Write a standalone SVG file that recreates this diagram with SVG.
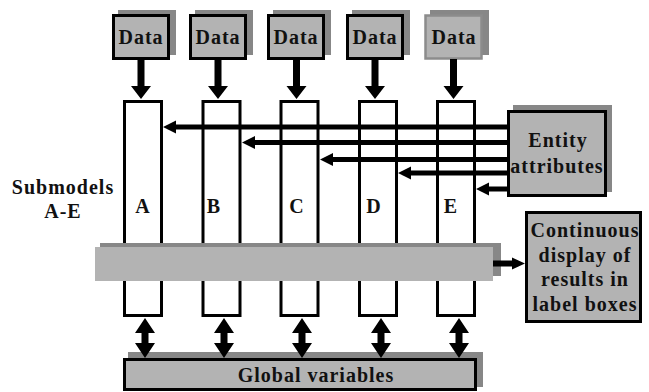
<svg xmlns="http://www.w3.org/2000/svg" width="649" height="392" viewBox="0 0 649 392">
  <style>
    .lbl { font-family: "Liberation Serif", "Times New Roman", serif; font-weight: bold; font-size: 20px; letter-spacing: 1px; fill: #111; text-anchor: middle; }
    .shadow { fill: #878787; }
    .box { fill: #b3b3b3; stroke: #000; stroke-width: 3; }
    .col { fill: #fff; stroke: #000; stroke-width: 3; }
    .arrow { fill: #000; stroke: none; }
  </style>
  <defs>
    <!-- downward arrow from a data box, origin at the shaft top centre -->
    <path id="down-arrow" d="M-3.5,0 H3.5 V27 H10 L0,40 L-10,27 H-3.5 Z"/>
    <!-- two-headed vertical arrow, origin at the upper tip -->
    <path id="both-arrow" d="M0,0 L10,15 H3.5 V25 H10 L0,40 L-10,25 H-3.5 V15 H-10 Z"/>
  </defs>

  <!-- Submodel columns -->
  <g id="submodel-A"><rect class="col" x="124.5" y="101.5" width="37" height="214"/><text class="lbl" x="143" y="213">A</text></g>
  <g id="submodel-B"><rect class="col" x="203" y="101.5" width="37" height="214"/><text class="lbl" x="214" y="213">B</text></g>
  <g id="submodel-C"><rect class="col" x="281" y="101.5" width="37" height="214"/><text class="lbl" x="297" y="213">C</text></g>
  <g id="submodel-D"><rect class="col" x="359.5" y="101.5" width="37" height="214"/><text class="lbl" x="374" y="213">D</text></g>
  <g id="submodel-E"><rect class="col" x="437.5" y="101.5" width="37" height="214"/><text class="lbl" x="451" y="213">E</text></g>

  <!-- Shared display bar across the submodels -->
  <g id="display-bar">
    <rect class="shadow" x="100" y="243" width="401" height="33"/>
    <rect x="95" y="247" width="398" height="34" fill="#b3b3b3"/>
  </g>

  <!-- Data sources -->
  <g id="data-1"><rect class="shadow" x="118" y="10" width="58" height="45"/><rect class="box" x="113.5" y="15.5" width="55" height="43"/><text class="lbl" x="141" y="44">Data</text></g>
  <g id="data-2"><rect class="shadow" x="195" y="10" width="58" height="45"/><rect class="box" x="190.5" y="15.5" width="55" height="43"/><text class="lbl" x="218" y="44">Data</text></g>
  <g id="data-3"><rect class="shadow" x="273" y="10" width="58" height="45"/><rect class="box" x="268.5" y="15.5" width="55" height="43"/><text class="lbl" x="296" y="44">Data</text></g>
  <g id="data-4"><rect class="shadow" x="352" y="10" width="58" height="45"/><rect class="box" x="347.5" y="15.5" width="55" height="43"/><text class="lbl" x="375" y="44">Data</text></g>
  <g id="data-5"><rect class="shadow" x="430" y="10" width="59" height="45"/><rect x="425.5" y="15.5" width="56" height="43" fill="#b3b3b3" stroke="#8c8c8c" stroke-width="2.5"/><text class="lbl" x="454" y="44">Data</text></g>

  <!-- Entity attributes -->
  <g id="entity-attributes">
    <rect class="shadow" x="513" y="105" width="99" height="87"/>
    <rect class="box" x="508.5" y="111.5" width="97" height="84"/>
    <text class="lbl" x="558" y="147">Entity</text>
    <text class="lbl" x="557" y="173">attributes</text>
  </g>

  <!-- Continuous display -->
  <g id="continuous-display">
    <rect class="box" x="526.5" y="212.5" width="114" height="109" stroke-width="2.5"/>
    <text class="lbl" x="585" y="237">Continuous</text>
    <text class="lbl" x="585" y="262">display of</text>
    <text class="lbl" x="585" y="286">results in</text>
    <text class="lbl" x="585" y="311">label boxes</text>
  </g>

  <!-- Global variables -->
  <g id="global-variables">
    <rect class="shadow" x="128" y="352" width="355" height="35"/>
    <rect class="box" x="124.5" y="359.5" width="351" height="30"/>
    <text class="lbl" x="316" y="382">Global variables</text>
  </g>

  <!-- Side label -->
  <g id="submodels-label">
    <text class="lbl" x="63" y="194">Submodels</text>
    <text class="lbl" x="63" y="218">A-E</text>
  </g>

  <!-- Connectors -->
  <g id="connectors" class="arrow">
    <!-- data into submodels -->
    <use href="#down-arrow" x="141" y="59"/>
    <use href="#down-arrow" x="218" y="59"/>
    <use href="#down-arrow" x="296.5" y="59"/>
    <use href="#down-arrow" x="375" y="59"/>
    <use href="#down-arrow" x="453.5" y="59"/>

    <!-- entity attributes into submodels -->
    <path d="M508,124.5 H176 V120.5 L163,127 L176,133.5 V129.5 H508 Z"/>
    <path d="M508,140 H255 V136 L242,142.5 L255,149 V145 H508 Z"/>
    <path d="M508,157 H333 V153 L320,159.5 L333,166 V162 H508 Z"/>
    <path d="M508,170.5 H411 V166.5 L398,173 L411,179.5 V175.5 H508 Z"/>
    <path d="M508,186.5 H489 V182.5 L476,189 L489,195.5 V191.5 H508 Z"/>

    <!-- display bar to continuous display -->
    <path d="M493,260.5 H512 V257.5 L525,263.5 L512,269.5 V266.5 H493 Z"/>

    <!-- submodels to and from global variables -->
    <use href="#both-arrow" x="145" y="318"/>
    <use href="#both-arrow" x="224" y="318"/>
    <use href="#both-arrow" x="302" y="318"/>
    <use href="#both-arrow" x="381" y="318"/>
    <use href="#both-arrow" x="459" y="318"/>
  </g>
</svg>
